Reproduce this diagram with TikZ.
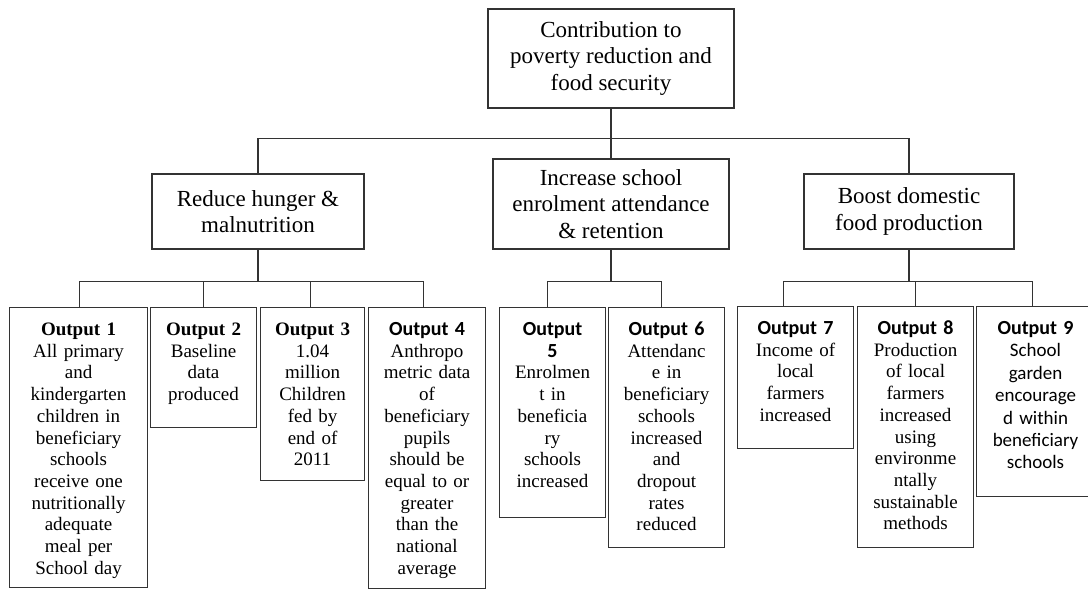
\documentclass[tikz,border=0pt]{standalone}
\usepackage{fontspec}
\setmainfont{Liberation Serif}
\newfontfamily\calibri{Carlito}
\newcommand{\calhead}[1]{{\calibri\bfseries\fontsize{20}{21}\selectfont #1}}

\begin{document}
\begin{tikzpicture}[x=1pt,y=1pt,
	line width=1.1pt, draw=black!80,
	goalbox/.style={draw, align=center, inner sep=2pt, font=\fontsize{23}{26.5}\selectfont},
	outbox/.style={draw, anchor=north west, align=center, inner sep=3pt,
		text height=25pt, font=\fontsize{19}{21.7}\selectfont}]
				\useasboundingbox (0,0) rectangle (1088,-589);

				% goals
				\draw (611,-58.5) node[goalbox, minimum width=246, minimum height=99] (top) {Contribution to\\poverty reduction and\\food security};
				\draw (258,-211.5) node[goalbox, minimum width=212, minimum height=75] (reduce) {Reduce hunger \&\\malnutrition};
				\draw (611,-204) node[goalbox, minimum width=236, minimum height=90] (increase) {Increase school\\enrolment attendance\\\& retention};
				\draw (909,-211.5) node[goalbox, minimum width=210, minimum height=75] (boost) {Boost domestic\\food production};

				% outputs
				\draw (9,-307) node[outbox, text width=132, text depth=249] (o1) {\textbf{Output 1}\\All primary\\and\\kindergarten\\children in\\beneficiary\\schools\\receive one\\nutritionally\\adequate\\meal per\\School day};
				\draw (150,-307) node[outbox, text width=100, text depth=89] (o2) {\textbf{Output 2}\\Baseline\\data\\produced};
				\draw (260,-307) node[outbox, text width=98, text depth=142] (o3) {\textbf{Output 3}\\1.04\\million\\Children\\fed by\\end of\\2011};
				\draw (368,-307) node[outbox, text width=111, text depth=250] (o4) {\calhead{Output 4}\\Anthropo\\metric data\\of\\beneficiary\\pupils\\should be\\equal to or\\greater\\than the\\national\\average};
				\draw (499,-307) node[outbox, text width=100, text depth=179] (o5) {\calhead{Output}\\\calhead{5}\\Enrolmen\\t in\\beneficia\\ry\\schools\\increased};
				\draw (608,-307) node[outbox, text width=110, text depth=209] (o6) {\calhead{Output 6}\\Attendanc\\e in\\beneficiary\\schools\\increased\\and\\dropout\\rates\\reduced};
				\draw (737,-306) node[outbox, text width=110, text depth=111] (o7) {\calhead{Output 7}\\Income of\\local\\farmers\\increased};
				\draw (857,-306) node[outbox, text width=110, text depth=210] (o8) {\calhead{Output 8}\\Production\\of local\\farmers\\increased\\using\\environme\\ntally\\sustainable\\methods};
				\draw (976,-306) node[outbox, text width=112, text depth=159, font=\calibri\fontsize{19}{22.4}\selectfont] (o9) {\calhead{Output 9}\\School\\garden\\encourage\\d within\\beneficiary\\schools};

				% joints
				\path (top.south) ++(0,-30) coordinate (j0);
				\path (reduce.south) ++(0,-32) coordinate (j1);
				\path (increase.south) ++(0,-32) coordinate (j2);
				\path (boost.south) ++(0,-32) coordinate (j3);

				\draw (top.south) -- (increase.north);
				\draw (reduce.north) |- (j0) -| (boost.north);

				\draw (reduce.south) -- (j1);
				\draw ([xshift=1pt]o1.north) |- (j1) -| ([xshift=-4pt]o4.north);
				\draw (o2.north) -- (o2.north |- j1);
				\draw ([xshift=-2pt]o3.north) -- ([xshift=-2pt]o3.north |- j1);

				\draw (increase.south) -- (j2);
				\draw ([xshift=-5pt]o5.north) |- (j2) -| ([xshift=-5pt]o6.north);

				\draw (boost.south) -- (j3);
				\draw ([xshift=-12pt]o7.north) |- (j3) -| ([xshift=-3pt]o9.north);
				\draw (o8.north) -- (o8.north |- j3);
			\end{tikzpicture}
\end{document}
